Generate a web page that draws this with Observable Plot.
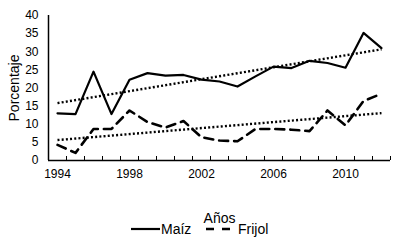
<!DOCTYPE html>
<html><head><meta charset="utf-8">
<script src="https://cdn.jsdelivr.net/npm/d3@7"></script>
<script src="https://cdn.jsdelivr.net/npm/@observablehq/plot@0.6"></script>
<style>
body{margin:0;background:#fff;font-family:"Liberation Sans",Arial,sans-serif;}
#chart svg{overflow:visible;}
#legend{position:relative;width:400px;height:22px;font-size:14px;line-height:14px;color:#000;}
#legend span,#legend svg{position:absolute;}
</style></head><body>
<div id="chart"></div>
<div id="legend"></div>
<script>
const years = [1994,1995,1996,1997,1998,1999,2000,2001,2002,2003,2004,2005,2006,2007,2008,2009,2010,2011,2012];
const maiz = [13.0,12.8,24.5,12.8,22.3,24.1,23.4,23.6,22.3,21.8,20.4,23.2,25.9,25.5,27.5,26.9,25.6,35.2,31.0];
const frijol = [4.3,2.1,8.7,8.7,13.8,10.6,9.1,10.9,6.4,5.5,5.3,8.7,8.7,8.5,8.1,13.8,9.7,16.4,18.4];
const xTickLabels = [1994,1998,2002,2006,2010];
const yTicks = [0,5,10,15,20,25,30,35,40];
const seriesNames = ["Maíz","Frijol"];
const xTitle = "Años";
const yTitle = "Porcentaje";

const maizData = years.map((y,i)=>({year:y, value:maiz[i]}));
const frijolData = years.map((y,i)=>({year:y, value:frijol[i]}));
const boundaries = years.map(y=>y-0.5).concat([years[years.length-1]+0.5]);

const font = '"Liberation Sans", Arial, sans-serif';
const chart = Plot.plot({
  width: 400,
  height: 222,
  marginTop: 15,
  marginBottom: 62,
  marginLeft: 48,
  marginRight: 10,
  style: {fontFamily: font, color: "#000", background: "#fff"},
  x: {domain: [boundaries[0], boundaries[boundaries.length-1]]},
  y: {domain: [0, 40]},
  marks: [
    Plot.ruleX(boundaries, {x: d=>d, insetTop: 141, stroke: "#000", strokeWidth: 1}),
    Plot.ruleX([boundaries[0]], {stroke: "#000", strokeWidth: 1.5}),
    Plot.ruleY([0], {stroke: "#000", strokeWidth: 1.5}),
    Plot.axisY({ticks: yTicks, tickSize: 0, tickPadding: 10, fontSize: 12, label: null}),
    Plot.axisX({ticks: xTickLabels, tickSize: 0, tickPadding: 9, fontSize: 12, tickFormat: d=>String(d), label: null}),
    Plot.text([yTitle], {frameAnchor: "left", dx: -34, rotate: -90, fontSize: 14, lineAnchor: "middle", textAnchor: "middle"}),
    Plot.text([xTitle], {frameAnchor: "bottom", dy: 58.5, fontSize: 14, lineAnchor: "middle", textAnchor: "middle"}),
    Plot.linearRegressionY(maizData, {x: "year", y: "value", ci: 0, stroke: "#000", strokeWidth: 2.4, strokeDasharray: "2,2.2", strokeLinecap: "butt"}),
    Plot.linearRegressionY(frijolData, {x: "year", y: "value", ci: 0, stroke: "#000", strokeWidth: 2.4, strokeDasharray: "2,2.2", strokeLinecap: "butt"}),
    Plot.line(maizData, {x: "year", y: "value", stroke: "#000", strokeWidth: 2.2}),
    Plot.line(frijolData, {x: "year", y: "value", stroke: "#000", strokeWidth: 2.6, strokeDasharray: "9,6"})
  ]
});
document.getElementById("chart").appendChild(chart);

const legend = document.getElementById("legend");
legend.innerHTML =
  `<svg width="30" height="6" style="left:131px;top:4px"><line x1="0" x2="29" y1="3" y2="3" stroke="#000" stroke-width="2.2"/></svg>` +
  `<span style="left:161px;top:0px">${seriesNames[0]}</span>` +
  `<svg width="26" height="6" style="left:206px;top:4px"><line x1="0" x2="25" y1="3" y2="3" stroke="#000" stroke-width="2.6" stroke-dasharray="8,8"/></svg>` +
  `<span style="left:238px;top:0px">${seriesNames[1]}</span>`;
</script>
</body></html>
